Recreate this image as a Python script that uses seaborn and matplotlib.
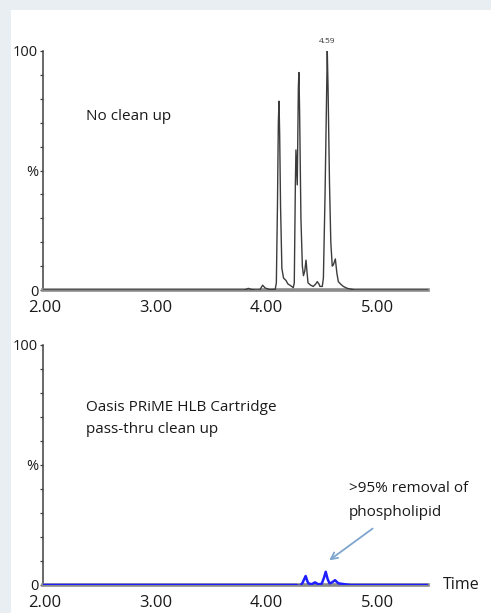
import numpy as np
import pandas as pd
import seaborn as sns
import matplotlib.pyplot as plt
from matplotlib.patches import Rectangle
from matplotlib.ticker import MultipleLocator

# trace points (time in min, intensity in %)
no_cleanup_time = [1.98, 3.80, 3.82, 3.837, 3.855, 3.90, 3.94, 3.966, 3.99, 4.03, 4.08, 4.09,
                   4.100, 4.108, 4.114, 4.120, 4.128, 4.14, 4.155, 4.177, 4.195, 4.213, 4.243,
                   4.252, 4.262, 4.267, 4.279, 4.289, 4.294, 4.300, 4.312, 4.325, 4.335, 4.347,
                   4.358, 4.368, 4.376, 4.40, 4.424, 4.445, 4.46, 4.475, 4.484, 4.505, 4.515,
                   4.530, 4.545, 4.550, 4.557, 4.570, 4.582, 4.595, 4.605, 4.623, 4.637, 4.65,
                   4.67, 4.695, 4.73, 4.77, 4.80, 5.46]
no_cleanup_pct = [0, 0, 0.3, 0.7, 0.3, 0, 0, 2.0, 0.8, 0.2, 0.3, 3,
                  35, 70, 79, 65, 35, 9, 5, 4, 2.5, 2, 1,
                  3, 45, 58.6, 44, 85, 91, 75, 30, 10, 6, 8,
                  12.5, 7, 3, 2, 1.5, 2.5, 3.5, 2.5, 1.5, 1.5, 5,
                  40, 85, 100, 85, 45, 20, 10, 10.5, 13, 7, 3.5,
                  2.5, 1.5, 0.7, 0.3, 0, 0]

prime_time = [1.98, 4.274, 4.30, 4.328, 4.342, 4.355, 4.367, 4.379, 4.409, 4.439, 4.469,
              4.50, 4.52, 4.536, 4.553, 4.57, 4.59, 4.62, 4.65, 4.725, 4.76, 5.46]
prime_pct = [0, 0, -0.7, 1, 2.5, 3.75, 2, 0.7, 0.3, 1.1, 0.3,
             0.5, 3, 5.5, 2.5, 0.7, 1, 2, 0.7, 0.2, 0, 0]

x_ticks = [2, 3, 4, 5]
x_ticklabels = ['2.00', '3.00', '4.00', '5.00']
y_ticks = [0, 50, 100]
y_ticklabels = ['0', '%', '100']

sns.set_style('white')
plt.rcParams['font.family'] = ['Open Sans', 'DejaVu Sans']

fig = plt.figure(figsize=(4.91, 6.13), dpi=100)
fig.patch.set_facecolor('#e9eef2')
fig.patches.append(Rectangle((11 / 491, 0), 1, 1 - 10 / 613, transform=fig.transFigure,
                             facecolor='white', edgecolor='none', zorder=-1))

ax1 = fig.add_axes([43 / 491, 1 - 290 / 613, 385 / 491, 239 / 613])
ax2 = fig.add_axes([43 / 491, 1 - 585 / 613, 385 / 491, 240 / 613])

df1 = pd.DataFrame({'time': no_cleanup_time, 'pct': no_cleanup_pct})
df2 = pd.DataFrame({'time': prime_time, 'pct': prime_pct})

sns.lineplot(data=df1, x='time', y='pct', ax=ax1, color='#3c3c3c', lw=1.0,
             estimator=None, sort=False, zorder=3)
sns.lineplot(data=df2, x='time', y='pct', ax=ax2, color='#1f1fff', lw=1.8,
             estimator=None, sort=False, zorder=3)

for ax in (ax1, ax2):
    ax.set_facecolor('none')
    ax.set_xlim(1.982, 5.46)
    ax.set_ylim(0, 100)
    ax.set_xlabel('')
    ax.set_ylabel('')
    for s in ('top', 'right'):
        ax.spines[s].set_visible(False)
    ax.spines['left'].set_color('#404040')
    ax.spines['left'].set_linewidth(1.1)
    ax.spines['bottom'].set_color('#8a8a8a')
    ax.spines['bottom'].set_linewidth(2.6)
    ax.set_xticks(x_ticks)
    ax.set_xticklabels(x_ticklabels)
    ax.xaxis.set_minor_locator(MultipleLocator(0.05))
    ax.set_yticks(y_ticks)
    ax.set_yticklabels(y_ticklabels)
    ax.yaxis.set_minor_locator(MultipleLocator(10))
    ax.tick_params(axis='x', which='major', direction='out', length=3.5, width=0.9,
                   color='#404040', labelsize=12, pad=3.5, labelcolor='#1a1a1a')
    ax.tick_params(axis='x', which='minor', direction='out', length=2, width=0.7,
                   color='#505050')
    ax.tick_params(axis='y', which='major', direction='out', length=2.5, width=0.9,
                   color='#404040', labelsize=10.5, pad=1, labelcolor='#1a1a1a', left=True)
    ax.tick_params(axis='y', which='minor', direction='out', length=2.2, width=0.9,
                   color='#404040', left=True)

ax1.text(4.55, 102.5, '4.59', fontsize=6, ha='center', va='bottom', color='#333333')
ax1.text(2.37, 72.8, 'No clean up', fontsize=11, va='center', color='#1a1a1a')

ax2.text(2.37, 73.75, 'Oasis PRiME HLB Cartridge', fontsize=11, va='center', color='#1a1a1a')
ax2.text(2.37, 64.6, 'pass-thru clean up', fontsize=11, va='center', color='#1a1a1a')
ax2.text(4.746, 40, '>95% removal of', fontsize=11, va='center', color='#1a1a1a')
ax2.text(4.746, 30.4, 'phospholipid', fontsize=11, va='center', color='#1a1a1a')
ax2.text(5.595, 0, 'Time', fontsize=11.5, va='center', color='#1a1a1a')
ax2.annotate('', xy=(4.547, 9.6), xytext=(4.98, 24.2),
             arrowprops=dict(arrowstyle='->', color='#7fa6cf', lw=1.3, mutation_scale=12))

fig.savefig('out.png', dpi=100, facecolor=fig.get_facecolor())
